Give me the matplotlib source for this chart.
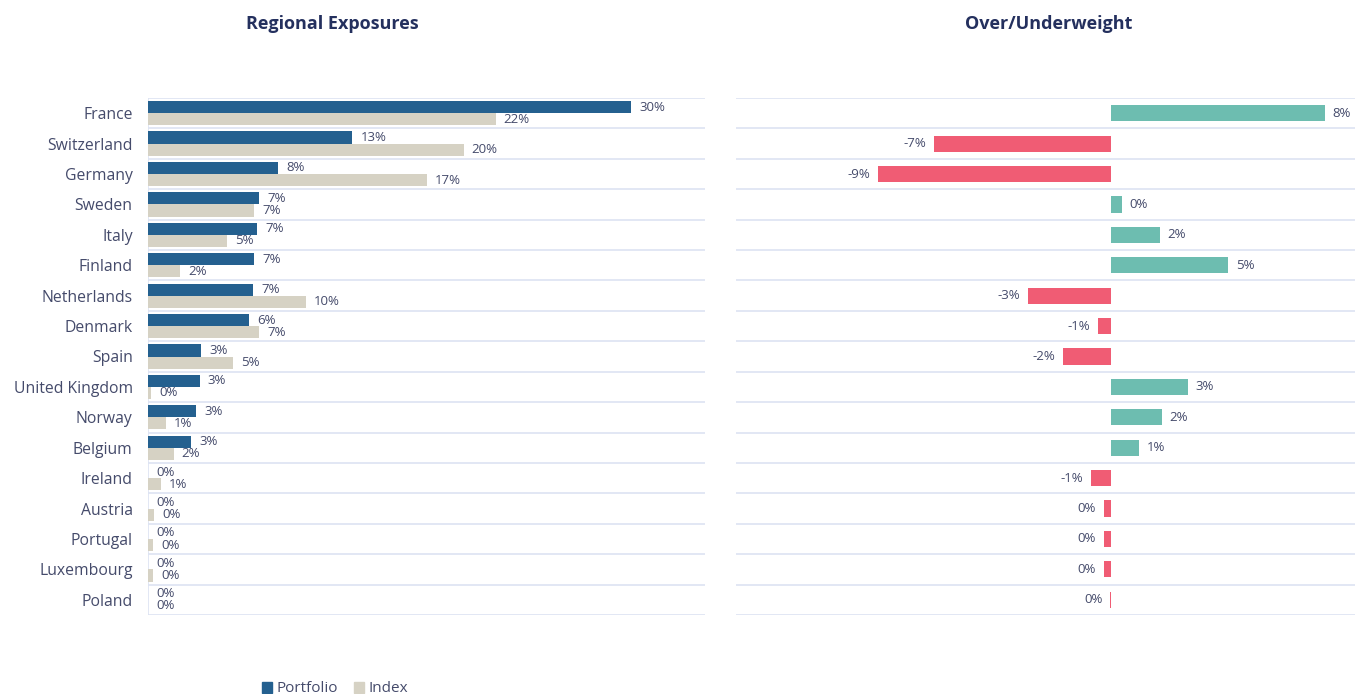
import numpy as np
import matplotlib
matplotlib.use("Agg")
from matplotlib import pyplot as plt

# data
countries = ["France", "Switzerland", "Germany", "Sweden", "Italy", "Finland",
             "Netherlands", "Denmark", "Spain", "United Kingdom", "Norway",
             "Belgium", "Ireland", "Austria", "Portugal", "Luxembourg", "Poland"]
portfolio = [30.0, 12.7, 8.1, 6.9, 6.8, 6.6, 6.55, 6.3, 3.3, 3.2, 3.0, 2.7,
             0.0, 0.0, 0.0, 0.0, 0.0]
index = [21.6, 19.6, 17.3, 6.6, 4.9, 2.0, 9.8, 6.9, 5.3, 0.2, 1.1, 1.6,
         0.8, 0.4, 0.3, 0.3, 0.0]
active = [8.4, -7.0, -9.2, 0.4, 1.9, 4.6, -3.3, -0.55, -1.9, 3.0, 2.0, 1.1,
          -0.8, -0.3, -0.3, -0.3, -0.05]

c_port = "#24608f"
c_idx = "#d6d2c4"
c_pos = "#6dbdb0"
c_neg = "#f05c74"
c_text = "#454b6b"
c_title = "#24305e"
c_grid = "#dde3f2"

plt.rcParams["font.family"] = ["Open Sans", "DejaVu Sans"]


def pct(v):
    return f"{round(v):.0f}%"


fig = plt.figure(figsize=(13.55, 6.94), dpi=100)
W, H = 1355, 694
ax1 = fig.add_axes([148 / W, 1 - 615 / H, 557 / W, 517 / H])
ax2 = fig.add_axes([736 / W, 1 - 615 / H, 619 / W, 517 / H])

y = np.arange(len(countries))
bh = 0.4

# left: regional exposures
ax1.barh(y - bh / 2, portfolio, height=bh, color=c_port)
ax1.barh(y + bh / 2, index, height=bh, color=c_idx)
for i in range(len(countries)):
    ax1.text(portfolio[i] + 0.5, y[i] - bh / 2, pct(portfolio[i]),
             va="center", ha="left", fontsize=9.5, color=c_text)
    ax1.text(index[i] + 0.5, y[i] + bh / 2, pct(index[i]),
             va="center", ha="left", fontsize=9.5, color=c_text)
ax1.set_xlim(0, 34.6)
ax1.set_ylim(len(countries) - 0.5, -0.5)
ax1.set_yticks(y)
ax1.set_yticklabels(countries, fontsize=11.3, color=c_text)
ax1.tick_params(axis="y", length=0, pad=11)
ax1.set_xticks([])

# right: over/underweight
cols = [c_pos if v >= 0 else c_neg for v in active]
ax2.barh(y, active, height=0.53, color=cols, linewidth=0)
for i, v in enumerate(active):
    if v >= 0:
        ax2.text(v + 0.3, y[i], pct(v), va="center", ha="left",
                 fontsize=9.5, color=c_text)
    else:
        ax2.text(v - 0.3, y[i], pct(v), va="center", ha="right",
                 fontsize=9.5, color=c_text)
ax2.set_xlim(-14.8, 9.6)
ax2.set_ylim(len(countries) - 0.5, -0.5)
ax2.set_yticks([])
ax2.set_xticks([])

fig.text(332 / W, 1 - 24 / H, "Regional Exposures", ha="center", va="center",
         fontsize=13, fontweight="bold", color=c_title)
fig.text(1049 / W, 1 - 24 / H, "Over/Underweight", ha="center", va="center",
         fontsize=13, fontweight="bold", color=c_title)

for ax in (ax1, ax2):
    for b in np.arange(-0.5, len(countries), 1.0):
        ax.axhline(b, color=c_grid, lw=1.2, zorder=0)
    for s in ax.spines.values():
        s.set_visible(False)
ax1.axvline(0, color=c_grid, lw=1.2, zorder=0)

handles = [plt.Rectangle((0, 0), 1, 1, color=c_port),
           plt.Rectangle((0, 0), 1, 1, color=c_idx)]
fig.legend(handles, ["Portfolio", "Index"], loc="center",
           bbox_to_anchor=(335 / W, 5 / H), ncol=2, frameon=False,
           fontsize=11, handlelength=0.7, handleheight=0.7,
           handletextpad=0.3, columnspacing=1.0, labelcolor=c_text)

fig.savefig("out.png", dpi=100)
